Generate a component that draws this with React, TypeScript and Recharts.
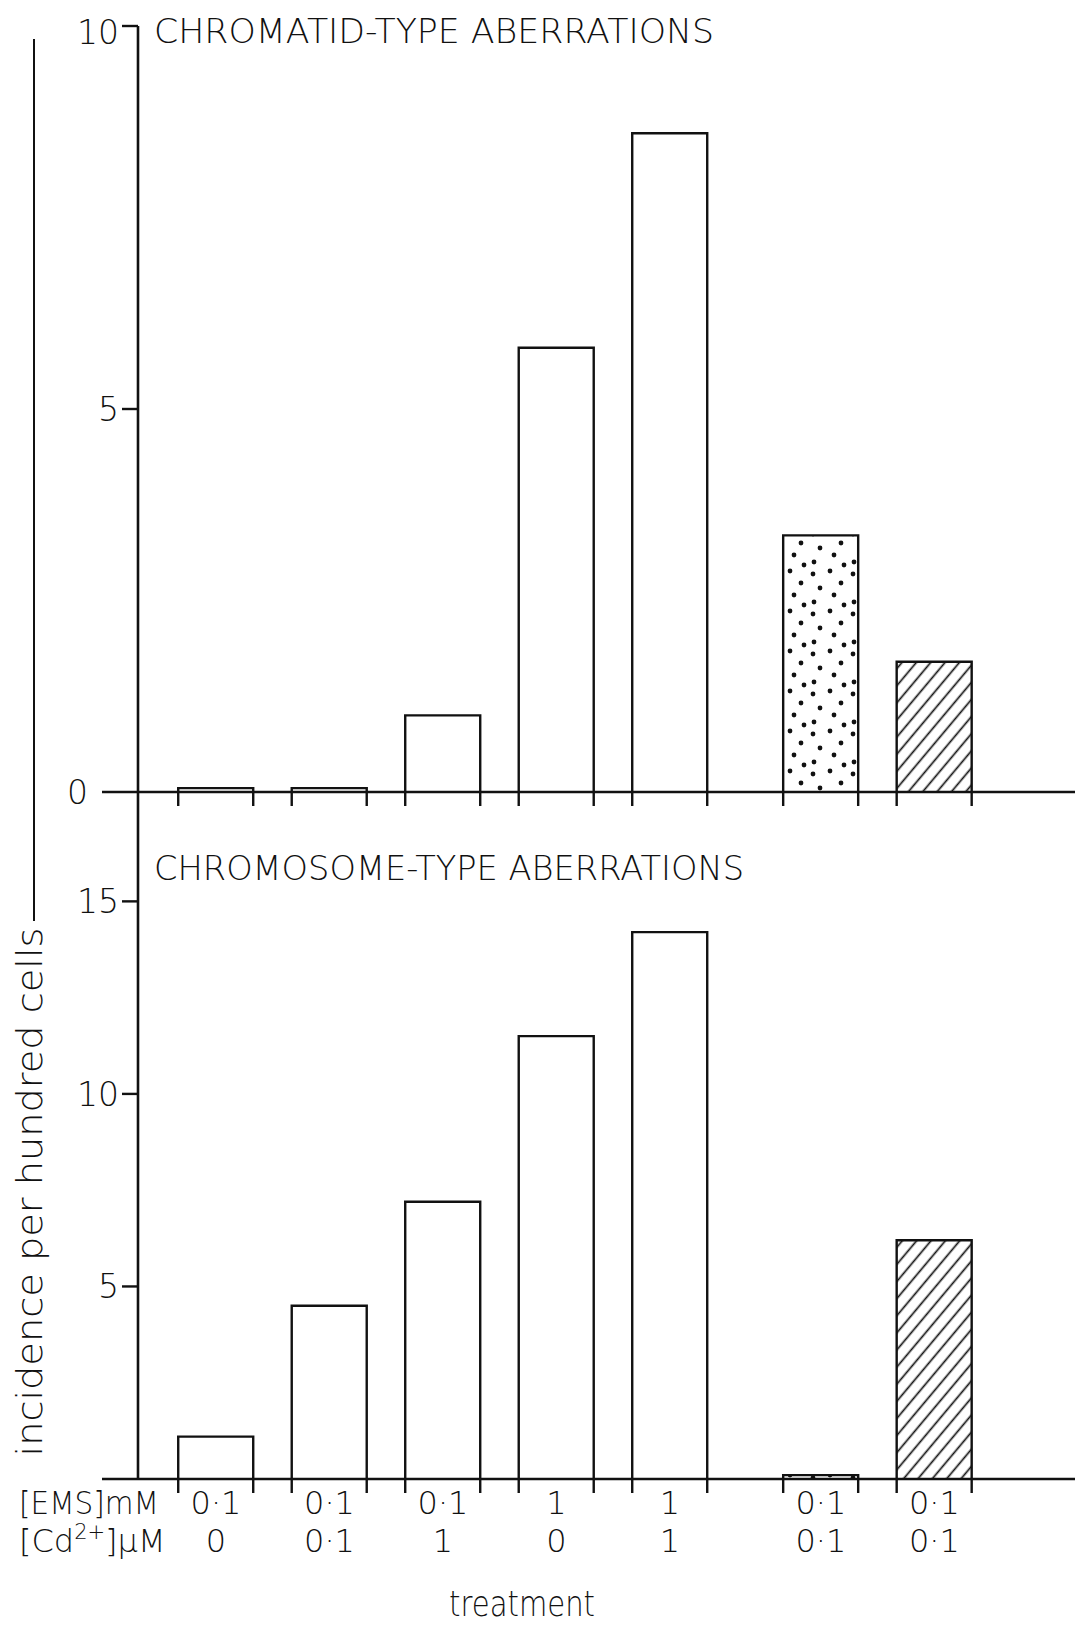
import React from 'react';
import { BarChart, Bar, XAxis, YAxis, Cell } from 'recharts';

// ---- data ----
const treatmentSlots = [1, 2, 3, 4, 5, 6.33, 7.33];
const emsLabels = ['0·1', '0·1', '0·1', '1', '1', '0·1', '0·1'];
const cdLabels = ['0', '0·1', '1', '0', '1', '0·1', '0·1'];
const chromatidValues = [0.05, 0.05, 1.0, 5.8, 8.6, 3.35, 1.7];
const chromosomeValues = [1.1, 4.5, 7.2, 11.5, 14.2, 0.1, 6.2];
const chromatidTicks = [0, 5, 10];
const chromosomeTicks = [0, 5, 10, 15];

// ---- styles ----
const barFills = ['#fff', '#fff', '#fff', '#fff', '#fff', 'url(#dots)', 'url(#hatch)'];
const FONT = "'DejaVu Sans', 'Liberation Sans', sans-serif";
const WEIGHT = 200;
const INK = '#111';

const topData = treatmentSlots.map((slot, i) => ({ slot, value: chromatidValues[i] }));
const bottomData = treatmentSlots.map((slot, i) => ({ slot, value: chromosomeValues[i] }));

const TickedBar = (props: any) => {
  const { x, y, width, height, fill } = props;
  const base = y + height;
  return (
    <g>
      <rect x={x} y={y} width={width} height={height} fill={fill} stroke="none" />
      <path
        d={`M${x},${base + 14} L${x},${y} L${x + width},${y} L${x + width},${base + 14}`}
        fill="none"
        stroke={INK}
        strokeWidth={2.4}
      />
    </g>
  );
};

const makeYTick = (showZero: boolean, topNudge: number) => (props: any) => {
  const { x, y, payload } = props;
  const v = payload.value;
  const len = v === 0 ? 36 : 16;
  const gap = v === 0 ? 14 : 3;
  const nudge = v === 10 ? topNudge : 0;
  return (
    <g>
      <line x1={x - len} y1={y} x2={x} y2={y} stroke={INK} strokeWidth={2.4} />
      {(v !== 0 || showZero) && (
        <text
          x={x - len - gap}
          y={y + 12 + nudge}
          textAnchor="end"
          fontFamily={FONT}
          fontWeight={WEIGHT}
          fontSize={33}
          fill={INK}
        >
          {String(v)}
        </text>
      )}
    </g>
  );
};

const TreatmentTick = (props: any) => {
  const { x, y, payload } = props;
  const idx = treatmentSlots.indexOf(payload.value);
  if (idx < 0) return null;
  return (
    <g fontFamily={FONT} fontWeight={WEIGHT} fontSize={32} fill={INK}>
      <text x={x} y={y + 35} textAnchor="middle">
        {emsLabels[idx]}
      </text>
      <text x={x} y={y + 73} textAnchor="middle">
        {cdLabels[idx]}
      </text>
    </g>
  );
};

const Patterns = () => (
  <defs>
    <pattern id="dots" patternUnits="userSpaceOnUse" width={40} height={40}>
      <rect width={40} height={40} fill="#fff" />
      <circle cx={5} cy={6} r={2.4} fill={INK} />
      <circle cx={22} cy={3} r={2.4} fill={INK} />
      <circle cx={33} cy={15} r={2.4} fill={INK} />
      <circle cx={12} cy={20} r={2.4} fill={INK} />
      <circle cx={26} cy={27} r={2.4} fill={INK} />
      <circle cx={6} cy={34} r={2.4} fill={INK} />
      <circle cx={36} cy={37} r={2.4} fill={INK} />
    </pattern>
    <pattern id="hatch" patternUnits="userSpaceOnUse" width={11} height={11} patternTransform="rotate(40)">
      <rect width={11} height={11} fill="#fff" />
      <line x1={5.5} y1={0} x2={5.5} y2={11} stroke={INK} strokeWidth={1.7} />
    </pattern>
  </defs>
);

const X_DOMAIN: [number, number] = [0.313, 8.639];

export default function App() {
  return (
    <div style={{ position: 'relative', width: 1075, height: 1619, background: '#fff' }}>
      <div style={{ position: 'absolute', left: 0, top: 0 }}>
        <BarChart width={1075} height={804} data={topData} margin={{ top: 18, right: 0, bottom: 0, left: 0 }}>
          <Patterns />
          <XAxis
            dataKey="slot"
            type="number"
            domain={X_DOMAIN}
            allowDataOverflow
            height={20}
            tick={false}
            tickLine={false}
            axisLine={{ stroke: INK, strokeWidth: 2.6 }}
          />
          <YAxis
            width={130}
            domain={[0, 10]}
            ticks={chromatidTicks}
            tickSize={0}
            tickMargin={0}
            tickLine={false}
            tick={makeYTick(true, 6)}
            axisLine={{ stroke: INK, strokeWidth: 2.6 }}
          />
          <Bar dataKey="value" barSize={75} shape={TickedBar} isAnimationActive={false}>
            {topData.map((_, i) => (
              <Cell key={i} fill={barFills[i]} />
            ))}
          </Bar>
        </BarChart>
      </div>
      <div style={{ position: 'absolute', left: 0, top: 784 }}>
        <BarChart width={1075} height={835} data={bottomData} margin={{ top: 0, right: 0, bottom: 0, left: 0 }}>
          <Patterns />
          <XAxis
            dataKey="slot"
            type="number"
            domain={X_DOMAIN}
            allowDataOverflow
            height={148}
            ticks={treatmentSlots}
            interval={0}
            tickSize={0}
            tickMargin={0}
            tickLine={false}
            tick={TreatmentTick}
            axisLine={{ stroke: INK, strokeWidth: 2.6 }}
          />
          <YAxis
            width={130}
            domain={[0, 17.84]}
            ticks={chromosomeTicks}
            tickSize={0}
            tickMargin={0}
            tickLine={false}
            tick={makeYTick(false, 0)}
            axisLine={{ stroke: INK, strokeWidth: 2.6 }}
          />
          <Bar dataKey="value" barSize={75} shape={TickedBar} isAnimationActive={false}>
            {bottomData.map((_, i) => (
              <Cell key={i} fill={barFills[i]} />
            ))}
          </Bar>
        </BarChart>
      </div>
      <svg
        width={1075}
        height={1619}
        style={{ position: 'absolute', left: 0, top: 0, pointerEvents: 'none' }}
        fontFamily={FONT}
        fontWeight={WEIGHT}
        fill={INK}
      >
        <text x={146} y={35} fontSize={33} textLength={560} lengthAdjust="spacingAndGlyphs">
          CHROMATID-TYPE ABERRATIONS
        </text>
        <text x={146} y={872} fontSize={33} textLength={590} lengthAdjust="spacingAndGlyphs">
          CHROMOSOME-TYPE ABERRATIONS
        </text>
        <line x1={26} y1={31} x2={26} y2={913} stroke={INK} strokeWidth={2} />
        <text
          x={34}
          y={1184}
          fontSize={35}
          textAnchor="middle"
          textLength={529}
          lengthAdjust="spacingAndGlyphs"
          transform="rotate(-90 34 1184)"
        >
          incidence per hundred cells
        </text>
        <text x={11} y={1506} fontSize={32} textLength={140} lengthAdjust="spacingAndGlyphs">
          [EMS]mM
        </text>
        <text x={11} y={1544} fontSize={32}>
          <tspan>[Cd</tspan>
          <tspan dy={-13} fontSize={21}>2+</tspan>
          <tspan dy={13}>]μM</tspan>
        </text>
        <text x={514} y={1608} fontSize={35} textAnchor="middle" textLength={146} lengthAdjust="spacingAndGlyphs">
          treatment
        </text>
      </svg>
    </div>
  );
}
